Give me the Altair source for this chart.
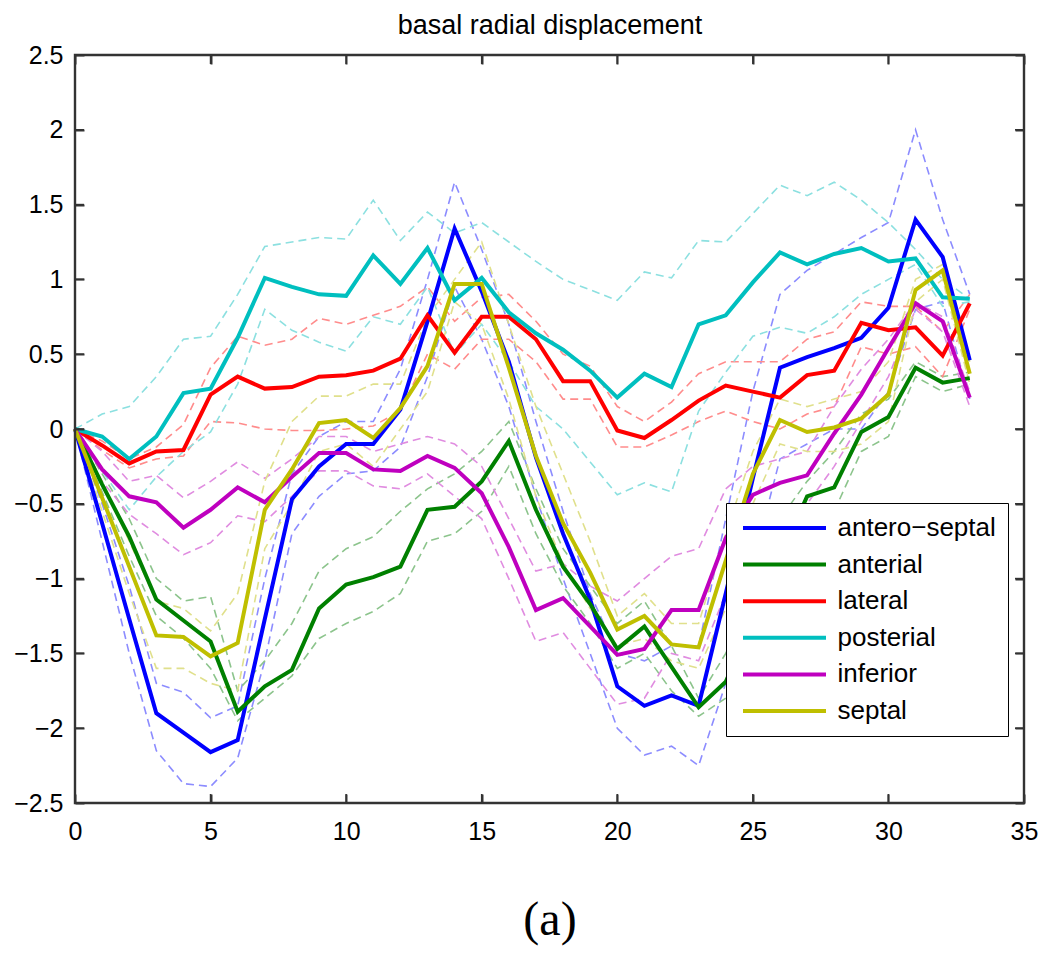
import altair as alt
import pandas as pd

t = list(range(34))

names = ["antero\u2212septal", "anterial", "lateral", "posterial", "inferior", "septal"]
colors = ["#0000ff", "#008000", "#ff0000", "#00bfbf", "#bf00bf", "#bfbf00"]
pale_colors = ["#8c8cff", "#8cc48c", "#ff8c8c", "#8ce0e0", "#e08ce0", "#e0e08c"]

as_mean = [0, -0.63, -1.27, -1.90, -2.03, -2.16, -2.08, -1.27, -0.47, -0.25, -0.10, -0.10, 0.13, 0.72, 1.34, 0.92,
           0.45, -0.19, -0.70, -1.14, -1.72, -1.85, -1.78, -1.85, -1.10, -0.33, 0.41, 0.48, 0.54, 0.61, 0.81, 1.40, 1.15, 0.46]
ant_mean = [0, -0.37, -0.72, -1.14, -1.28, -1.42, -1.89, -1.72, -1.61, -1.20, -1.04, -0.99, -0.92, -0.54, -0.52, -0.35,
            -0.08, -0.54, -0.92, -1.17, -1.47, -1.32, -1.59, -1.86, -1.69, -1.28, -0.86, -0.45, -0.39, -0.02, 0.08, 0.41, 0.31, 0.34]
lat_mean = [0, -0.11, -0.23, -0.15, -0.14, 0.23, 0.35, 0.27, 0.28, 0.35, 0.36, 0.39, 0.47, 0.76, 0.51, 0.75,
            0.75, 0.60, 0.32, 0.32, -0.01, -0.06, 0.06, 0.19, 0.29, 0.25, 0.21, 0.36, 0.39, 0.71, 0.66, 0.68, 0.49, 0.84]
post_mean = [0, -0.05, -0.20, -0.05, 0.24, 0.27, 0.61, 1.01, 0.95, 0.90, 0.89, 1.16, 0.97, 1.21, 0.86, 1.01,
             0.78, 0.64, 0.53, 0.39, 0.21, 0.37, 0.28, 0.70, 0.76, 0.98, 1.18, 1.10, 1.17, 1.21, 1.12, 1.14, 0.88, 0.87]
inf_mean = [0, -0.27, -0.45, -0.49, -0.66, -0.54, -0.39, -0.49, -0.32, -0.16, -0.16, -0.27, -0.28, -0.18, -0.26, -0.43,
            -0.79, -1.21, -1.13, -1.32, -1.51, -1.47, -1.21, -1.21, -0.73, -0.44, -0.36, -0.31, -0.03, 0.23, 0.54, 0.84, 0.72, 0.21]
sep_mean = [0, -0.46, -0.92, -1.38, -1.39, -1.52, -1.43, -0.54, -0.27, 0.04, 0.06, -0.06, 0.14, 0.42, 0.97, 0.97,
            0.41, -0.18, -0.63, -0.96, -1.34, -1.25, -1.44, -1.46, -0.88, -0.30, 0.06, -0.02, 0.01, 0.07, 0.23, 0.93, 1.06, 0.37]

as_hi = [0, -0.5, -1.05, -1.7, -1.76, -1.93, -1.85, -1.0, -0.3, -0.05, 0.05, 0.05, 0.4, 1.0, 1.65, 1.2,
         0.7, 0.05, -0.55, -1.1, -1.5, -1.55, -1.45, -1.45, -0.6, 0.25, 0.9, 1.06, 1.17, 1.28, 1.38, 2.0, 1.4, 0.9]
as_lo = [0, -0.75, -1.5, -2.15, -2.37, -2.39, -2.2, -1.55, -0.7, -0.45, -0.3, -0.28, -0.12, 0.35, 0.95, 0.6,
         0.15, -0.45, -1.0, -1.5, -2.0, -2.18, -2.12, -2.25, -1.7, -0.9, -0.2, -0.1, 0.0, 0.0, 0.25, 0.8, 0.85, 0.2]
ant_hi = [0, -0.3, -0.6, -1.0, -1.15, -1.12, -1.75, -1.55, -1.3, -0.95, -0.8, -0.72, -0.55, -0.4, -0.3, -0.15,
          0.05, -0.4, -0.8, -1.05, -1.3, -1.15, -1.45, -1.8, -1.5, -1.0, -0.6, -0.35, -0.15, 0.1, 0.2, 0.45, 0.35, 0.38]
ant_lo = [0, -0.42, -0.85, -1.25, -1.4, -1.6, -1.95, -1.8, -1.65, -1.4, -1.3, -1.22, -1.1, -0.75, -0.7, -0.55,
          -0.25, -0.7, -1.05, -1.3, -1.6, -1.5, -1.75, -1.92, -1.8, -1.5, -1.1, -0.6, -0.55, -0.15, -0.05, 0.35, 0.25, 0.3]
lat_hi = [0, -0.08, -0.2, -0.12, 0.03, 0.41, 0.62, 0.56, 0.6, 0.74, 0.7, 0.76, 0.82, 0.95, 0.72, 0.88,
          0.9, 0.72, 0.5, 0.42, 0.15, 0.05, 0.18, 0.37, 0.45, 0.45, 0.45, 0.6, 0.65, 0.85, 0.82, 0.82, 0.65, 0.9]
lat_lo = [0, -0.14, -0.26, -0.2, -0.18, 0.05, 0.04, 0.0, -0.01, -0.01, 0.0, 0.02, 0.12, 0.5, 0.4, 0.6,
          0.6, 0.45, 0.2, 0.2, -0.12, -0.12, -0.04, 0.05, 0.12, 0.05, 0.0, 0.1, 0.15, 0.55, 0.5, 0.55, 0.35, 0.8]
post_hi = [0, 0.1, 0.15, 0.35, 0.6, 0.62, 0.9, 1.22, 1.25, 1.28, 1.27, 1.53, 1.26, 1.45, 1.31, 1.38,
           1.25, 1.12, 1.0, 0.93, 0.86, 1.05, 1.01, 1.26, 1.25, 1.44, 1.63, 1.56, 1.65, 1.53, 1.38, 1.2, 1.0, 0.87]
post_lo = [0, -0.28, -0.54, -0.32, -0.15, -0.02, 0.3, 0.8, 0.66, 0.58, 0.52, 0.75, 0.7, 0.95, 0.5, 0.7,
           0.45, 0.15, 0.0, -0.22, -0.44, -0.36, -0.42, 0.12, 0.38, 0.62, 0.68, 0.64, 0.75, 0.9, 1.0, 1.1, 0.82, 0.85]
inf_hi = [0, -0.15, -0.35, -0.31, -0.46, -0.35, -0.22, -0.33, -0.2, -0.05, -0.05, -0.15, -0.1, -0.05, -0.1, -0.25,
          -0.6, -0.95, -0.9, -1.05, -1.15, -1.0, -0.85, -0.8, -0.4, -0.25, -0.2, -0.15, 0.15, 0.4, 0.6, 0.85, 0.75, 0.25]
inf_lo = [0, -0.35, -0.57, -0.7, -0.84, -0.76, -0.58, -0.62, -0.45, -0.28, -0.28, -0.38, -0.4, -0.3, -0.45, -0.6,
          -1.0, -1.42, -1.36, -1.6, -1.84, -1.8, -1.5, -1.55, -1.1, -0.7, -0.55, -0.5, -0.25, 0.05, 0.35, 0.8, 0.65, 0.15]
sep_hi = [0, -0.35, -0.75, -1.15, -1.2, -1.35, -1.1, -0.35, 0.05, 0.22, 0.22, 0.3, 0.3, 0.75, 1.0, 1.25,
          0.7, 0.15, -0.3, -0.75, -1.25, -1.1, -1.3, -1.3, -0.7, -0.15, 0.2, 0.15, 0.2, 0.25, 0.45, 1.0, 1.1, 0.45]
sep_lo = [0, -0.55, -1.1, -1.6, -1.6, -1.7, -1.75, -0.8, -0.5, -0.15, -0.1, -0.25, 0.0, 0.25, 0.85, 0.7,
          0.2, -0.45, -0.9, -1.2, -1.45, -1.4, -1.55, -1.6, -1.2, -0.5, -0.1, -0.15, -0.15, -0.1, 0.05, 0.85, 1.0, 0.3]

x_ticks = [0, 5, 10, 15, 20, 25, 30, 35]
y_ticks = [-2.5, -2, -1.5, -1, -0.5, 0, 0.5, 1, 1.5, 2, 2.5]
x_range = [0, 35]
y_range = [-2.5, 2.5]

means = [as_mean, ant_mean, lat_mean, post_mean, inf_mean, sep_mean]
his = [as_hi, ant_hi, lat_hi, post_hi, inf_hi, sep_hi]
los = [as_lo, ant_lo, lat_lo, post_lo, inf_lo, sep_lo]

rows = []
for i, name in enumerate(names):
    for kind, arr in (("mean", means[i]), ("hi", his[i]), ("lo", los[i])):
        for tt, v in zip(t, arr):
            rows.append({"t": tt, "v": v, "series": name, "kind": kind,
                         "grp": f"{i}-{kind}", "pale": pale_colors[i]})
df = pd.DataFrame(rows)

# tick positions on the four edges of the frame (inward ticks, clipped to the plot)
xtick_df = pd.DataFrame([{"x": v, "y": e} for v in x_ticks for e in y_range])
ytick_df = pd.DataFrame([{"x": e, "y": v} for v in y_ticks for e in x_range])

FONT = "Liberation Sans"
FRAME = "#333333"
x_scale = alt.Scale(domain=x_range, nice=False, zero=False)
y_scale = alt.Scale(domain=y_range, nice=False, zero=False)
color_scale = alt.Scale(domain=names, range=colors)

common_axis = dict(grid=False, domain=False, ticks=True, tickSize=9, offset=-9,
                   tickColor=FRAME, tickOpacity=1, tickWidth=2, zindex=2,
                   labelFont=FONT, labelFontSize=25, labelColor="black")

bottom_axis = alt.Axis(orient="bottom", values=x_ticks, format="d", labelPadding=16,
                       labelFlush=False, title="(a)", titleFont="Liberation Serif",
                       titleFontSize=48, titleFontWeight="normal", titleColor="black",
                       titlePadding=52, **common_axis)
left_axis = alt.Axis(orient="left", values=y_ticks, format="~g", labelPadding=12,
                     title=None, labelFlush=False, **common_axis)
top_axis = alt.Axis(orient="top", values=x_ticks, labels=False,
                    title="basal radial displacement", titleFont=FONT, titleFontSize=27,
                    titleFontWeight="normal", titleColor="black", titlePadding=15,
                    **common_axis)
right_axis = alt.Axis(orient="right", values=y_ticks, labels=False, title=None, **common_axis)

base = alt.Chart(df)

dashed = base.transform_filter(alt.datum.kind != "mean").mark_line(
    strokeWidth=1.6, strokeDash=[8, 5]
).encode(
    x=alt.X("t:Q", scale=x_scale, axis=top_axis),
    y=alt.Y("v:Q", scale=y_scale, axis=right_axis),
    stroke=alt.Stroke("pale:N", scale=None, legend=None),
    detail="grp:N",
    order="t:Q",
)

solid = base.transform_filter(alt.datum.kind == "mean").mark_line(
    strokeWidth=4
).encode(
    x=alt.X("t:Q", scale=x_scale, axis=bottom_axis),
    y=alt.Y("v:Q", scale=y_scale, axis=left_axis),
    color=alt.Color("series:N", scale=color_scale, sort=names, legend=alt.Legend(
        title=None, orient="none", legendX=651, legendY=448,
        strokeColor="black", fillColor="white", padding=12,
        symbolType="M-4.15,0L4.15,0", symbolSize=400, symbolStrokeWidth=4,
        symbolOpacity=1, symbolOffset=33.5, labelOffset=40, rowPadding=10.6,
        labelFont=FONT, labelFontSize=26, labelColor="black",
    )),
    order="t:Q",
)

frame_df = pd.DataFrame({"x0": [x_range[0]], "x1": [x_range[1]],
                         "y0": [y_range[0]], "y1": [y_range[1]]})
frame = alt.Chart(frame_df).mark_rect(
    fill="transparent", stroke=FRAME, strokeWidth=2.4
).encode(
    x=alt.X("x0:Q", scale=x_scale, axis=None),
    x2="x1:Q",
    y=alt.Y("y0:Q", scale=y_scale, axis=None),
    y2="y1:Q",
)

xticks_layer = alt.Chart(xtick_df).mark_tick(
    orient="vertical", size=18, thickness=1.6, clip=True, color=FRAME, opacity=1
).encode(
    x=alt.X("x:Q", scale=x_scale, axis=None),
    y=alt.Y("y:Q", scale=y_scale, axis=None),
)
yticks_layer = alt.Chart(ytick_df).mark_tick(
    orient="horizontal", size=18, thickness=1.6, clip=True, color=FRAME, opacity=1
).encode(
    x=alt.X("x:Q", scale=x_scale, axis=None),
    y=alt.Y("y:Q", scale=y_scale, axis=None),
)

chart = alt.layer(dashed, solid, frame, xticks_layer, yticks_layer).properties(
    width=949, height=748,
    autosize=alt.AutoSizeParams(type="none"),
    padding={"left": 67, "top": 47, "right": 18, "bottom": 150},
).configure(
    background="white",
).configure_view(stroke=None)

chart.save("out.html", embed_options={"renderer": "svg", "actions": False})
